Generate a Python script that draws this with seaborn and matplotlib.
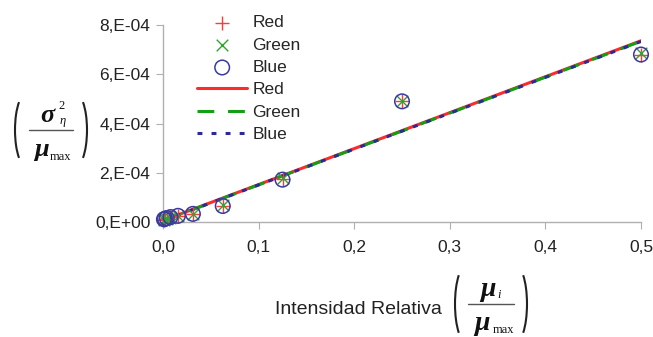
import numpy as np
import matplotlib
matplotlib.use('Agg')
import matplotlib.pyplot as plt
from matplotlib.lines import Line2D
from matplotlib.patches import Arc
from matplotlib.transforms import IdentityTransform
import seaborn as sns

# data
x_vals = [0.5, 0.25, 0.125, 0.0625, 0.03125, 0.015625, 0.0078, 0.0039, 0.00195, 0.001]
red_y = [6.8e-4, 4.9e-4, 1.74e-4, 6.6e-5, 3.3e-5, 2.4e-5, 1.9e-5, 1.5e-5, 1.2e-5, 1.0e-5]
green_y = [6.85e-4, 4.92e-4, 1.78e-4, 6.8e-5, 3.2e-5, 2.3e-5, 1.8e-5, 1.4e-5, 1.1e-5, 0.9e-5]
blue_y = [6.8e-4, 4.9e-4, 1.72e-4, 6.5e-5, 3.3e-5, 2.5e-5, 2.0e-5, 1.6e-5, 1.3e-5, 1.1e-5]

line_x = [0.0, 0.5]
red_line = [0.6e-5, 7.36e-4]
green_line = [0.5e-5, 7.34e-4]
blue_line = [0.5e-5, 7.33e-4]

y_ticks = [0, 2e-4, 4e-4, 6e-4, 8e-4]
y_ticklabels = ['0,E+00', '2,E-04', '4,E-04', '6,E-04', '8,E-04']
x_ticks = [0, 0.1, 0.2, 0.3, 0.4, 0.5]
x_ticklabels = ['0,0', '0,1', '0,2', '0,3', '0,4', '0,5']

sns.set_style('white')
plt.rcParams['font.family'] = ['Liberation Sans', 'DejaVu Sans']

W, H = 653, 337
fig = plt.figure(figsize=(W/100, H/100), dpi=100)
ax = fig.add_axes([163/W, 1-222/H, (641-163)/W, (222-25)/H])

sns.scatterplot(x=x_vals, y=red_y, marker='+', color='#ff3a3a', s=110, linewidth=1.0,
                label='Red', ax=ax, clip_on=False, zorder=3)
sns.scatterplot(x=x_vals, y=green_y, marker='x', color='#35a035', s=70, linewidth=1.0,
                label='Green', ax=ax, clip_on=False, zorder=3)
sns.scatterplot(x=x_vals, y=blue_y, marker='o', facecolor='none', edgecolor='#3a3aa0',
                s=110, linewidth=1.1, label='Blue', ax=ax, clip_on=False, zorder=3)

sns.lineplot(x=line_x, y=red_line, color='#ff2a2a', linewidth=2.2, label='Red', ax=ax)
sns.lineplot(x=line_x, y=green_line, color='#12a012', linewidth=2.2, label='Green', ax=ax)
ax.lines[-1].set_dashes([5.5, 4.5])
sns.lineplot(x=line_x, y=blue_line, color='#2a2a9a', linewidth=2.2, label='Blue', ax=ax)
ax.lines[-1].set_dashes([1.6, 3.0])

ax.set_xlim(0, 0.5)
ax.set_ylim(0, 8e-4)
ax.set_xticks(x_ticks)
ax.set_xticklabels(x_ticklabels)
ax.set_yticks(y_ticks)
ax.set_yticklabels(y_ticklabels)
ax.tick_params(axis='both', labelsize=12.5, labelcolor='#222222', color='#b0b0b0',
               length=5, direction='out', left=True, bottom=True)
ax.tick_params(axis='y', pad=4)
ax.tick_params(axis='x', pad=8)
for side in ['top', 'right']:
    ax.spines[side].set_visible(False)
for side in ['left', 'bottom']:
    ax.spines[side].set_color('#b0b0b0')
    ax.spines[side].set_linewidth(1.0)

ax.legend(loc='upper left', bbox_to_anchor=(197/W, 1-15/H), bbox_transform=fig.transFigure,
          frameon=False, fontsize=12.5, handlelength=2.9, labelspacing=0.42,
          handletextpad=0.3, borderpad=0, borderaxespad=0)

serif = ['Liberation Serif', 'DejaVu Serif']
ink = '#111111'


def px(x, y):
    return x / W, 1 - y / H


def frac_frame(cx, cy, half_w, paren_h):
    # thin round brackets and the fraction bar, in pixels
    for dx, t1, t2 in [(-25, 104, 256), (25, -76, 76)]:
        fig.add_artist(Arc((cx + dx, H - cy), 22, paren_h, theta1=t1, theta2=t2,
                           color='#222222', linewidth=1.5, transform=IdentityTransform()))
    fig.add_artist(Line2D([(cx - half_w) / W, (cx + half_w) / W], [1 - cy / H, 1 - cy / H],
                          transform=fig.transFigure, color='#555555', linewidth=1.0))


# y label
cx, cy = 51, 130
frac_frame(cx, cy, 22, 72)
fig.text(*px(cx - 4, cy - 15), 'σ', fontsize=19, family=serif, style='italic',
         weight='bold', ha='center', va='center', color=ink)
fig.text(*px(cx + 11, cy - 24), '2', fontsize=9, family=serif, ha='center',
         va='center', color=ink)
fig.text(*px(cx + 12, cy - 9), 'η', fontsize=9, family=serif, style='italic',
         ha='center', va='center', color=ink)
fig.text(*px(cx - 10, cy + 19), 'μ', fontsize=19, family=serif, style='italic',
         weight='bold', ha='center', va='center', color=ink)
fig.text(*px(cx + 9, cy + 27), 'max', fontsize=9, family=serif, ha='center',
         va='center', color=ink)

# x label
fig.text(*px(442, 309), 'Intensidad Relativa', fontsize=14, ha='right', va='center',
         color='#222222')
cx, cy = 491, 304
frac_frame(cx, cy, 23, 76)
fig.text(*px(cx - 3, cy - 15), 'μ', fontsize=20, family=serif, style='italic',
         weight='bold', ha='center', va='center', color=ink)
fig.text(*px(cx + 8, cy - 9), 'i', fontsize=9, family=serif, style='italic',
         ha='center', va='center', color=ink)
fig.text(*px(cx - 9, cy + 19), 'μ', fontsize=20, family=serif, style='italic',
         weight='bold', ha='center', va='center', color=ink)
fig.text(*px(cx + 12, cy + 26), 'max', fontsize=9, family=serif, ha='center',
         va='center', color=ink)

fig.savefig('out.png', dpi=100)
